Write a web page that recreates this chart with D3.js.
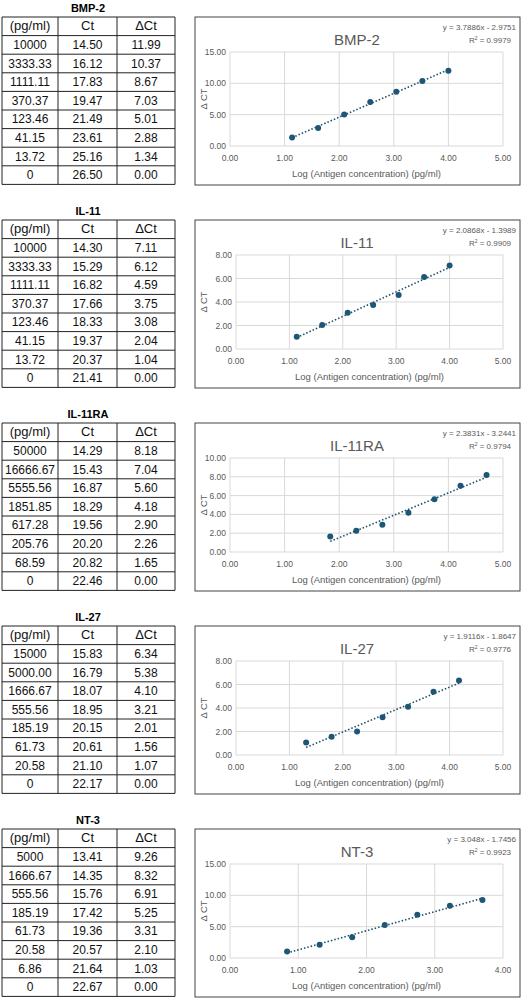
<!DOCTYPE html>
<html><head><meta charset="utf-8">
<script src="https://cdn.jsdelivr.net/npm/d3@7"></script>
<style>body{margin:0;background:#fff}</style>
</head><body><div id="chart"></div>
<script>
const names = ['BMP-2', 'IL-11', 'IL-11RA', 'IL-27', 'NT-3']
const concs = [
  ['10000','3333.33','1111.11','370.37','123.46','41.15','13.72','0'],
  ['10000','3333.33','1111.11','370.37','123.46','41.15','13.72','0'],
  ['50000','16666.67','5555.56','1851.85','617.28','205.76','68.59','0'],
  ['15000','5000.00','1666.67','555.56','185.19','61.73','20.58','0'],
  ['5000','1666.67','555.56','185.19','61.73','20.58','6.86','0']
]
const cts = [
  [14.50,16.12,17.83,19.47,21.49,23.61,25.16,26.50],
  [14.30,15.29,16.82,17.66,18.33,19.37,20.37,21.41],
  [14.29,15.43,16.87,18.29,19.56,20.20,20.82,22.46],
  [15.83,16.79,18.07,18.95,20.15,20.61,21.10,22.17],
  [13.41,14.35,15.76,17.42,19.36,20.57,21.64,22.67]
]
const dcts = [
  [11.99,10.37,8.67,7.03,5.01,2.88,1.34,0.00],
  [7.11,6.12,4.59,3.75,3.08,2.04,1.04,0.00],
  [8.18,7.04,5.60,4.18,2.90,2.26,1.65,0.00],
  [6.34,5.38,4.10,3.21,2.01,1.56,1.07,0.00],
  [9.26,8.32,6.91,5.25,3.31,2.10,1.03,0.00]
]
const slopes = [3.7886, 2.0868, 2.3831, 1.9116, 3.048]
const intercepts = [-2.9751, -1.3989, -3.2441, -1.8647, -1.7456]
const r2s = ['0.9979', '0.9909', '0.9794', '0.9776', '0.9923']
const yMaxes = [15, 8, 10, 8, 15]
const yStep = [5, 2, 2, 2, 5]
const xMaxes = [5, 5, 5, 5, 4]

const W = 531, H = 1000, STEP = 203
const svg = d3.select('#chart').append('svg').attr('width', W).attr('height', H)
  .style('font-family', 'Liberation Sans, Arial, sans-serif')
const colX = [2, 58, 117, 175]
const rowH = 18.6
const dotColor = '#1d5677'

names.forEach((name, i) => {
  const g = svg.append('g').attr('transform', `translate(0,${i * STEP})`)

  // table
  g.append('text').attr('x', 88).attr('y', 12).attr('text-anchor', 'middle')
    .attr('font-size', 11).attr('font-weight', 'bold').text(name)
  const rows = [['(pg/ml)', 'Ct', '\u0394Ct']].concat(
    concs[i].map((c, k) => [c, cts[i][k].toFixed(2), dcts[i][k].toFixed(2)]))
  const top = 17
  rows.forEach((r, k) => {
    r.forEach((v, c) => {
      g.append('text').attr('x', (colX[c] + colX[c + 1]) / 2)
        .attr('y', top + k * rowH + rowH / 2 + 4).attr('text-anchor', 'middle')
        .attr('font-size', k === 0 ? 13 : 12).attr('fill', '#111').text(v)
    })
  })
  d3.range(rows.length + 1).forEach(k => {
    g.append('line').attr('x1', colX[0]).attr('x2', colX[3])
      .attr('y1', top + k * rowH).attr('y2', top + k * rowH).attr('stroke', '#222')
  })
  colX.forEach(x => g.append('line').attr('x1', x).attr('x2', x)
    .attr('y1', top).attr('y2', top + rows.length * rowH).attr('stroke', '#222'))

  // chart box
  g.append('rect').attr('x', 195).attr('y', 17).attr('width', 325).attr('height', 168)
    .attr('fill', '#fff').attr('stroke', '#444')
  const left = yMaxes[i] >= 10 ? 230 : 236
  const x = d3.scaleLinear().domain([0, xMaxes[i]]).range([left, 503])
  const y = d3.scaleLinear().domain([0, yMaxes[i]]).range([146, 52])
  const yt = d3.range(0, yMaxes[i] + 0.001, yStep[i])
  const xt = d3.range(0, xMaxes[i] + 0.001, 1)

  g.selectAll(null).data(yt).join('line').attr('x1', x(0)).attr('x2', x(xMaxes[i]))
    .attr('y1', d => y(d)).attr('y2', d => y(d)).attr('stroke', '#d9d9d9')
  g.selectAll(null).data(xt).join('line').attr('x1', d => x(d)).attr('x2', d => x(d))
    .attr('y1', y(0)).attr('y2', y(yMaxes[i])).attr('stroke', '#d9d9d9')
  g.selectAll(null).data(yt).join('text').attr('x', x(0) - 4).attr('y', d => y(d) + 3)
    .attr('text-anchor', 'end').attr('font-size', 8.5).attr('fill', '#595959').text(d => d.toFixed(2))
  g.selectAll(null).data(xt).join('text').attr('x', d => x(d)).attr('y', 161)
    .attr('text-anchor', 'middle').attr('font-size', 8.5).attr('fill', '#595959').text(d => d.toFixed(2))
  g.append('text').attr('x', (x(0) + x(xMaxes[i])) / 2).attr('y', 177)
    .attr('text-anchor', 'middle').attr('font-size', 9.5).attr('fill', '#595959')
    .text('Log (Antigen concentration) (pg/ml)')
  g.append('text').attr('transform', `translate(207,${(y(0) + y(yMaxes[i])) / 2}) rotate(-90)`)
    .attr('text-anchor', 'middle').attr('font-size', 9.5).attr('fill', '#595959').text('\u0394 CT')
  g.append('text').attr('x', 357).attr('y', 45).attr('text-anchor', 'middle')
    .attr('font-size', 15).attr('fill', '#595959').text(name)
  g.append('text').attr('x', 516).attr('y', 30).attr('text-anchor', 'end')
    .attr('font-size', 8).attr('fill', '#595959')
    .text(`y = ${slopes[i]}x - ${Math.abs(intercepts[i])}`)
  const r2 = g.append('text').attr('x', 490).attr('y', 43).attr('text-anchor', 'middle')
    .attr('font-size', 8).attr('fill', '#595959')
  r2.append('tspan').text('R')
  r2.append('tspan').attr('dy', -3).attr('font-size', 5).text('2')
  r2.append('tspan').attr('dy', 3).text(` = ${r2s[i]}`)

  const pts = concs[i].map((c, k) => ({ lx: Math.log10(+c), d: dcts[i][k] })).filter(p => +p.lx > 0 && isFinite(p.lx))
  const ext = d3.extent(pts, p => p.lx)
  g.append('line').attr('x1', x(ext[0])).attr('x2', x(ext[1]))
    .attr('y1', y(slopes[i] * ext[0] + intercepts[i])).attr('y2', y(slopes[i] * ext[1] + intercepts[i]))
    .attr('stroke', '#1d4f6a').attr('stroke-width', 1.6).attr('stroke-dasharray', '1.5,2')
  g.selectAll(null).data(pts).join('circle').attr('cx', p => x(p.lx)).attr('cy', p => y(p.d))
    .attr('r', 3).attr('fill', dotColor)
})
</script></body></html>
